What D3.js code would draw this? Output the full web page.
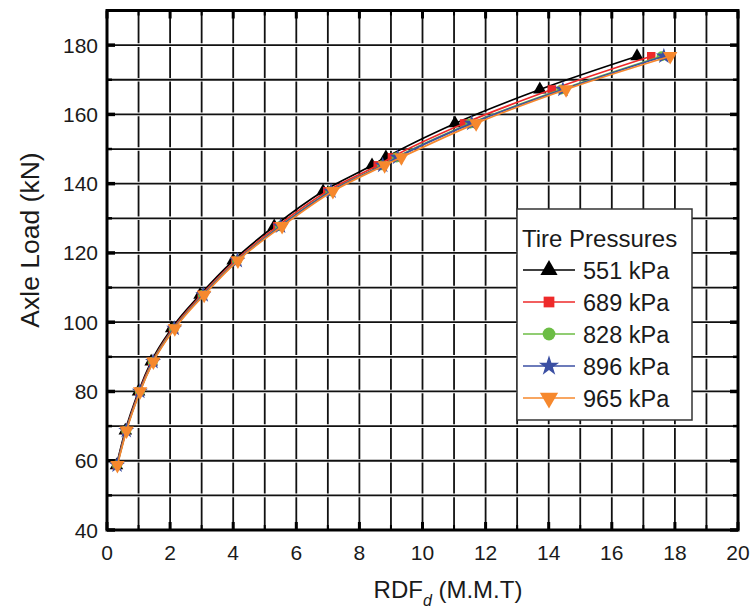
<!DOCTYPE html>
<html>
<head>
<meta charset="utf-8">
<script src="https://cdn.jsdelivr.net/npm/d3@7"></script>
<style>
  html, body { margin: 0; padding: 0; background: #fff; }
  svg { display: block; }
  text { font-family: "Liberation Sans", Arial, sans-serif; fill: #1a1a1a; }
</style>
</head>
<body>
<script>
// ---------- data ----------
const loads = [58.7, 68.7, 80, 88.6, 98.2, 107.9, 117.8, 127.7, 137.8, 145.3, 147.6, 157.4, 167.2, 176.8];
const rdf551 = [0.30, 0.58, 1.00, 1.40, 2.05, 2.95, 4.00, 5.30, 6.85, 8.40, 8.84, 11.03, 13.72, 16.80];
const rdf689 = [0.31, 0.60, 1.02, 1.43, 2.09, 3.00, 4.07, 5.40, 6.98, 8.58, 9.03, 11.32, 14.10, 17.25];
const rdf828 = [0.32, 0.61, 1.04, 1.45, 2.12, 3.04, 4.12, 5.48, 7.08, 8.72, 9.18, 11.52, 14.40, 17.58];
const rdf896 = [0.32, 0.61, 1.04, 1.46, 2.13, 3.05, 4.13, 5.50, 7.10, 8.74, 9.21, 11.56, 14.45, 17.65];
const rdf965 = [0.33, 0.62, 1.05, 1.47, 2.15, 3.08, 4.15, 5.55, 7.16, 8.80, 9.33, 11.70, 14.55, 17.85];
const seriesNames = ["551 kPa", "689 kPa", "828 kPa", "896 kPa", "965 kPa"];
const seriesColors = ["#000000", "#ee2a2a", "#6cbd45", "#3b4fa3", "#f6882d"];
const seriesSymbols = ["triangle", "square", "circle", "star", "triangleDown"];
const xTicks = [0, 2, 4, 6, 8, 10, 12, 14, 16, 18, 20];
const yTicks = [40, 60, 80, 100, 120, 140, 160, 180];
const legendTitle = "Tire Pressures";

const seriesX = [rdf551, rdf689, rdf828, rdf896, rdf965];

// ---------- setup ----------
const W = 750, H = 610;
const svg = d3.select("body").append("svg").attr("width", W).attr("height", H);

const x = d3.scaleLinear().domain([0, 20]).range([107, 738]);
const y = d3.scaleLinear().domain([40, 190]).range([530, 10.5]);

// grid
const grid = svg.append("g");
const vx = d3.range(1, 20);
const hy = d3.range(50, 190, 10);
grid.selectAll("line.v").data(vx).join("line")
  .attr("x1", d => x(d)).attr("x2", d => x(d))
  .attr("y1", y(190)).attr("y2", y(40))
  .attr("stroke", "#111").attr("stroke-width", 1.8);
grid.selectAll("line.hw").data(hy).join("line")
  .attr("x1", x(0)).attr("x2", x(20))
  .attr("y1", d => y(d)).attr("y2", d => y(d))
  .attr("stroke", "#fff").attr("stroke-width", 3.6);
grid.selectAll("line.h").data(hy).join("line")
  .attr("x1", x(0)).attr("x2", x(20))
  .attr("y1", d => y(d)).attr("y2", d => y(d))
  .attr("stroke", "#111").attr("stroke-width", 1.8);

// ticks (inside)
const tk = svg.append("g").attr("stroke", "#000");
d3.range(0, 21, 1).forEach(v => {
  const len = v % 2 === 0 ? 8 : 5;
  const w = v % 2 === 0 ? 3 : 2;
  tk.append("line").attr("x1", x(v)).attr("x2", x(v)).attr("y1", y(40)).attr("y2", y(40) - len).attr("stroke-width", w);
  tk.append("line").attr("x1", x(v)).attr("x2", x(v)).attr("y1", y(190)).attr("y2", y(190) + len).attr("stroke-width", w);
});
d3.range(40, 191, 10).forEach(v => {
  const len = v % 20 === 0 ? 8 : 5;
  const w = v % 20 === 0 ? 3.5 : 2.5;
  tk.append("line").attr("x1", x(0)).attr("x2", x(0) + len).attr("y1", y(v)).attr("y2", y(v)).attr("stroke-width", w);
  tk.append("line").attr("x1", x(20)).attr("x2", x(20) - len).attr("y1", y(v)).attr("y2", y(v)).attr("stroke-width", w);
});

// frame
svg.append("rect")
  .attr("x", x(0)).attr("y", y(190))
  .attr("width", x(20) - x(0)).attr("height", y(40) - y(190))
  .attr("fill", "none").attr("stroke", "#000").attr("stroke-width", 3);

// tick labels
svg.append("g").selectAll("text").data(xTicks).join("text")
  .attr("x", d => x(d)).attr("y", 560)
  .attr("text-anchor", "middle").attr("font-size", 21)
  .text(d => d);
svg.append("g").selectAll("text").data(yTicks).join("text")
  .attr("x", 98).attr("y", d => y(d) + 7.5)
  .attr("text-anchor", "end").attr("font-size", 21)
  .text(d => d);

// axis titles
const xt = svg.append("text").attr("x", 448).attr("y", 598).attr("text-anchor", "middle").attr("font-size", 24);
xt.append("tspan").text("RDF");
xt.append("tspan").attr("font-size", 16).attr("font-style", "italic").attr("dy", 8).text("d");
xt.append("tspan").attr("dy", -8).text("  (M.M.T)");

svg.append("text")
  .attr("transform", "translate(39,240) rotate(-90)")
  .attr("text-anchor", "middle").attr("font-size", 26.5)
  .text("Axle Load (kN)");

// symbols
function symbolPath(kind, size) {
  const map = {
    triangle: d3.symbolTriangle,
    square: d3.symbolSquare,
    circle: d3.symbolCircle,
    star: d3.symbolStar,
    triangleDown: d3.symbolTriangle
  };
  return d3.symbol().type(map[kind]).size(size)();
}
const symSize = { triangle: 80, square: 72, circle: 80, star: 80, triangleDown: 90 };

// series
const line = d3.line().x(d => x(d[0])).y(d => y(d[1])).curve(d3.curveMonotoneX);
seriesX.forEach((xs, i) => {
  const pts = xs.map((v, j) => [v, loads[j]]);
  const g = svg.append("g");
  g.append("path").attr("d", line(pts)).attr("fill", "none")
    .attr("stroke", seriesColors[i]).attr("stroke-width", 1.7);
  g.selectAll("path.m").data(pts).join("path")
    .attr("d", symbolPath(seriesSymbols[i], symSize[seriesSymbols[i]]))
    .attr("transform", d => `translate(${x(d[0])},${y(d[1])})` + (seriesSymbols[i] === "triangleDown" ? " rotate(180)" : ""))
    .attr("fill", seriesColors[i]);
});

// legend
const lg = svg.append("g");
lg.append("rect").attr("x", 517).attr("y", 209).attr("width", 175).attr("height", 211)
  .attr("fill", "#fff").attr("stroke", "#333").attr("stroke-width", 1.5);
lg.append("text").attr("x", 522).attr("y", 247).attr("font-size", 24).text(legendTitle);
seriesNames.forEach((name, i) => {
  const cy = 270 + i * 32;
  lg.append("line").attr("x1", 523).attr("x2", 575).attr("y1", cy).attr("y2", cy)
    .attr("stroke", seriesColors[i]).attr("stroke-width", 1.5);
  lg.append("path")
    .attr("d", symbolPath(seriesSymbols[i], symSize[seriesSymbols[i]] * 1.6))
    .attr("transform", `translate(549,${cy})` + (seriesSymbols[i] === "triangleDown" ? " rotate(180)" : ""))
    .attr("fill", seriesColors[i]);
  lg.append("text").attr("x", 583).attr("y", cy + 8.5).attr("font-size", 23.5).text(name);
});
</script>
</body>
</html>
